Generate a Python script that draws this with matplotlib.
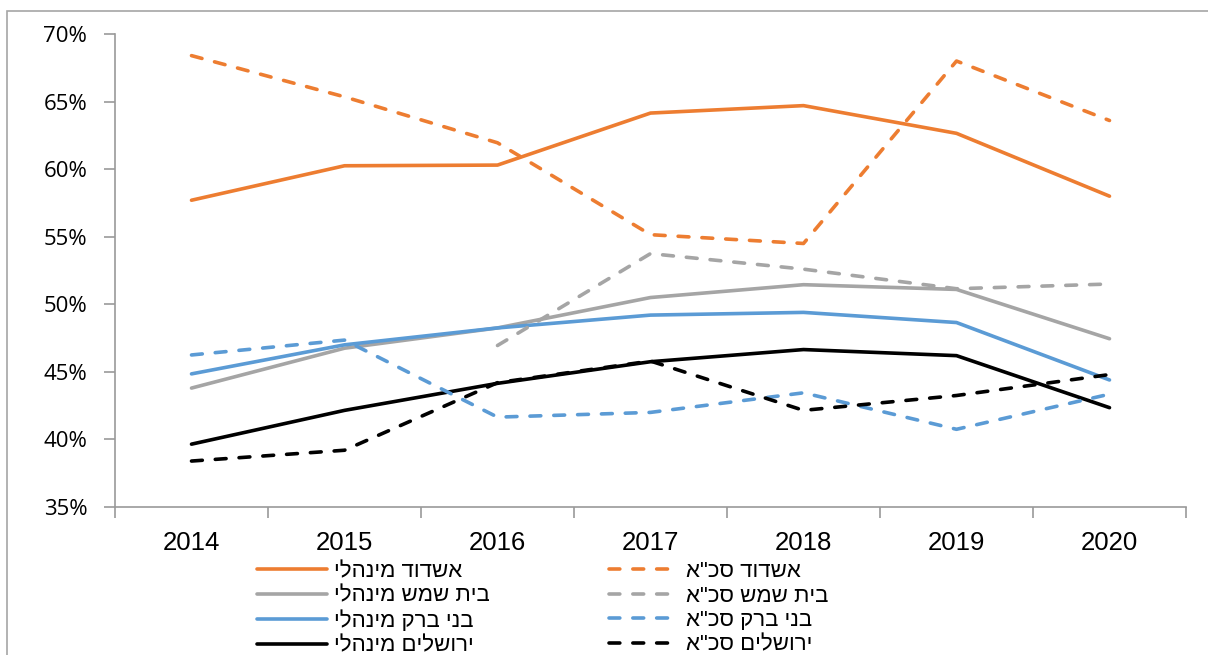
import matplotlib
matplotlib.use("Agg")
import matplotlib.pyplot as plt
import numpy as np
from matplotlib.patches import Rectangle
from matplotlib.ticker import FixedLocator, FuncFormatter

years = ["2014", "2015", "2016", "2017", "2018", "2019", "2020"]

ashdod_mgr = [57.7, 60.25, 60.3, 64.15, 64.7, 62.65, 58.0]
ashdod_ska = [68.4, 65.35, 61.95, 55.15, 54.5, 68.0, 63.6]
beit_mgr = [43.8, 46.75, 48.25, 50.5, 51.45, 51.1, 47.45]
beit_ska = [np.nan, np.nan, 46.95, 53.75, 52.6, 51.15, 51.5]
bnei_mgr = [44.85, 47.0, 48.25, 49.2, 49.4, 48.65, 44.4]
bnei_ska = [46.25, 47.35, 41.65, 42.0, 43.45, 40.75, 43.35]
jer_mgr = [39.65, 42.15, 44.15, 45.75, 46.65, 46.2, 42.35]
jer_ska = [38.4, 39.2, 44.2, 45.8, 42.15, 43.25, 44.8]

labels_mgr = ["אשדוד מינהלי", "בית שמש מינהלי", "בני ברק מינהלי", "ירושלים מינהלי"]
labels_ska = ['אשדוד סכ"א', 'בית שמש סכ"א', 'בני ברק סכ"א', 'ירושלים סכ"א']

colors = ["#ED7D31", "#A5A5A5", "#5B9BD5", "#000000"]

W, H = 1208, 655
fig = plt.figure(figsize=(W / 100, H / 100), dpi=100)
ax = fig.add_axes([115 / W, 1 - 507 / H, (1186 - 115) / W, (507 - 34) / H])

x = np.arange(len(years))
lw = 2.6
mgr_series = [ashdod_mgr, beit_mgr, bnei_mgr, jer_mgr]
ska_series = [ashdod_ska, beit_ska, bnei_ska, jer_ska]
handles = []
for s, c, lab in zip(mgr_series, colors, labels_mgr):
    h, = ax.plot(x, s, color=c, lw=lw, solid_capstyle="round", label=lab[::-1])
    handles.append(h)
for s, c, lab in zip(ska_series, colors, labels_ska):
    h, = ax.plot(x, s, color=c, lw=lw, dashes=(3.0, 3.6), dash_capstyle="round",
                 label=lab[::-1])
    handles.append(h)

ax.set_xlim(-0.5, len(years) - 0.5)
ax.set_ylim(35, 70)
ax.set_yticks(np.arange(35, 71, 5))
ax.yaxis.set_major_formatter(FuncFormatter(lambda v, p: f"{v:.0f}%"))
ax.set_xticks(x)
ax.set_xticklabels(years, fontfamily="Liberation Sans", fontsize=18.5)
ax.xaxis.set_minor_locator(FixedLocator(np.arange(-0.5, len(years), 1.0)))
ax.tick_params(axis="x", which="major", length=0, pad=17)
ax.tick_params(axis="x", which="minor", length=8, color="#9a9a9a", width=1.2)
ax.tick_params(axis="y", length=8, color="#9a9a9a", width=1.2, pad=12)
for t in ax.get_yticklabels():
    t.set_fontfamily("Open Sans")
    t.set_fontsize(16)

for sp in ["top", "right"]:
    ax.spines[sp].set_visible(False)
for sp in ["left", "bottom"]:
    ax.spines[sp].set_color("#9a9a9a")
    ax.spines[sp].set_linewidth(1.2)

leg = fig.legend(handles=handles, ncol=2, loc="upper left",
                 bbox_to_anchor=(257 / W, 1 - 561 / H), frameon=False,
                 prop={"family": "Liberation Sans", "size": 16},
                 handlelength=3.15, handletextpad=0.3, columnspacing=5.4,
                 labelspacing=0.16, borderpad=0, borderaxespad=0)

fig.patches.append(Rectangle((6.5 / W, -0.1), 1.2, 1.1 - 11 / H, transform=fig.transFigure,
                             fill=False, edgecolor="#a6a6a6", lw=1.2))

fig.savefig("out.png", dpi=100)
